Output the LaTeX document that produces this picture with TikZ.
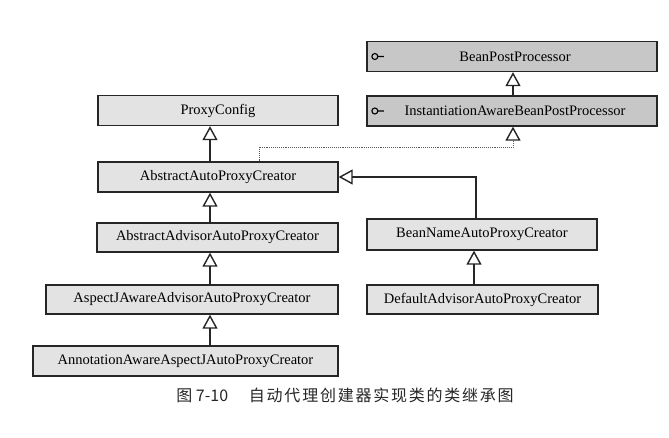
\documentclass[tikz,border=0pt]{standalone}
\usepackage{fontspec}
\setmainfont{Liberation Serif}
\newfontfamily\cjk{Noto Sans CJK SC}
\newfontfamily\cjkwide[LetterSpace=11]{Noto Sans CJK SC}
\usepackage{tikz}
\usetikzlibrary{arrows.meta}

\begin{document}
\begin{tikzpicture}[x=1pt, y=-1pt, every node/.style={font=\fontsize{14.5}{16}\selectfont},
	cls/.style={draw=black!85, line width=1.3pt, fill=black!11, minimum height=30pt, inner sep=0pt},
	iface/.style={cls, fill=black!22},
	>={Triangle[open, fill=white, color=black!85, line width=1.4pt, length=14pt, width=15pt]}, inh/.style={->, line width=1.1pt, black!85}]
	\useasboundingbox[fill=white] (0,0) rectangle (669,437);
	\node[iface, minimum width=290pt] (bpp) at (512,56.5) {\hspace{6pt}BeanPostProcessor};
	\node[iface, minimum width=290pt] (iabpp) at (512,111) {\hspace{6pt}InstantiationAwareBeanPostProcessor};
	\node[cls, minimum width=240pt] (pc) at (218,110.5) {ProxyConfig};
	\node[cls, minimum width=240pt] (aapc) at (218,177) {AbstractAutoProxyCreator};
	\node[cls, minimum width=241pt, minimum height=29pt] (aaapc) at (217.5,237.5) {AbstractAdvisorAutoProxyCreator};
	\node[cls, minimum width=292pt, minimum height=29pt] (ajaaapc) at (192,299.5) {AspectJAwareAdvisorAutoProxyCreator};
	\node[cls, minimum width=305pt] (aaajapc) at (185.5,361) {AnnotationAwareAspectJAutoProxyCreator};
	\node[cls, minimum width=230pt, minimum height=31pt] (bnapc) at (482,234.5) {BeanNameAutoProxyCreator};
	\node[cls, minimum width=231pt, minimum height=29pt] (daapc) at (482.5,299.5) {DefaultAdvisorAutoProxyCreator};
	\foreach \n in {bpp,iabpp} {
		\draw[line width=1.1pt] ([xshift=8.5pt]\n.west) circle (3pt) ++(3pt,0) -- ++(6pt,0);
	}
	\coordinate (lx) at (210,0);
	\coordinate (rx) at (474,0);
	\coordinate (ix) at (513,0);
	\coordinate (dx) at (259,147);
	\draw[inh] (iabpp.north -| ix) -- (bpp.south -| ix);
	\draw[->, densely dotted, line width=0.9pt, black!65] (aapc.north -| dx) -- (dx) -- (dx -| ix) -- (iabpp.south -| ix);
	\draw[inh] (aapc.north -| lx) -- (pc.south -| lx);
	\draw[inh] (aaapc.north -| lx) -- (aapc.south -| lx);
	\draw[inh] (ajaaapc.north -| lx) -- (aaapc.south -| lx);
	\draw[inh] (aaajapc.north -| lx) -- (ajaaapc.south -| lx);
	\draw[inh] (bnapc.north -| 476,0) |- (aapc.east);
	\draw[inh] (daapc.north -| rx) -- (bnapc.south -| rx);
	\node[font=\cjk\fontsize{16}{18}\selectfont, black!85] (cap) at (345,395) {图 7-10\hspace{1.3em}{\cjkwide 自动代理创建器实现类的类继承图}};
\end{tikzpicture}
\end{document}
